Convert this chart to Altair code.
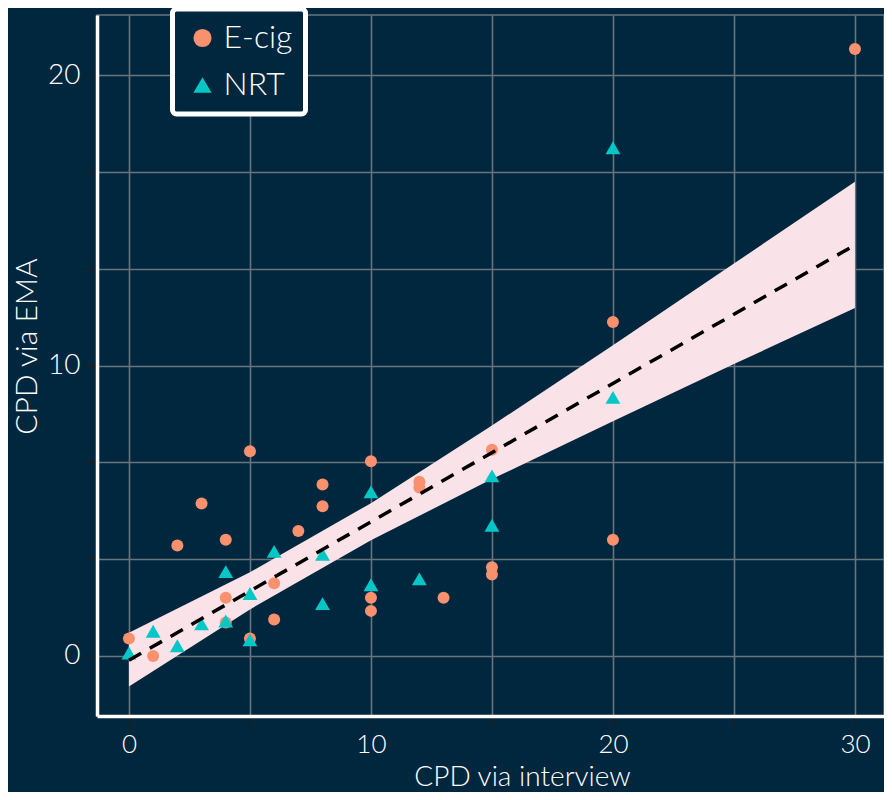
import altair as alt
import pandas as pd

# ---- data ----
ecig_x = [0, 1, 2, 3, 4, 4, 4, 5, 5, 6, 6, 7, 8, 8, 10, 10, 10, 12, 12, 13, 15, 15, 15, 20, 20, 30]
ecig_y = [0.6, 0.0, 3.8, 5.25, 4.0, 2.0, 1.15, 7.05, 0.6, 2.5, 1.25, 4.3, 5.9, 5.15, 6.7, 2.0, 1.55,
          6.0, 5.8, 2.0, 7.1, 3.05, 2.8, 11.5, 4.0, 20.9]

nrt_x = [0, 1, 2, 3, 4, 4, 5, 5, 6, 8, 8, 10, 10, 12, 15, 15, 20, 20]
nrt_y = [0.1, 0.85, 0.35, 1.1, 2.9, 1.2, 2.15, 0.55, 3.6, 3.5, 1.8, 5.65, 2.45, 2.65, 6.2, 4.5, 17.5, 8.9]

fit_x = [0, 30]
fit_y = [-0.15, 14.15]

band_x = [0, 5, 10, 15, 20, 25, 30]
band_lo = [-1.05, 1.60, 3.98, 6.09, 8.08, 10.05, 11.98]
band_hi = [0.80, 2.88, 5.26, 7.93, 10.70, 13.51, 16.33]

groups = ["E-cig", "NRT"]
colors = ["#F9916F", "#05C7C6"]
shapes = ["circle", "triangle-up"]

x_ticks = [0, 5, 10, 15, 20, 25, 30]
y_ticks = [0, 10 / 3, 20 / 3, 10, 40 / 3, 50 / 3, 20]

NAVY = "#01273F"
GRID = "#6A747C"
FONT = "Lato"

pts = pd.DataFrame({
    "x": ecig_x + nrt_x,
    "y": ecig_y + nrt_y,
    "group": ["E-cig"] * len(ecig_x) + ["NRT"] * len(nrt_x),
})
band = pd.DataFrame({"x": band_x, "lo": band_lo, "hi": band_hi})
fit = pd.DataFrame({"x": fit_x, "y": fit_y})

xscale = alt.Scale(domain=[-1.32, 31.20], nice=False, zero=False)
yscale = alt.Scale(domain=[-2.07, 22.07], nice=False, zero=False)

xaxis = alt.Axis(
    values=x_ticks,
    labelExpr="datum.value % 10 == 0 ? datum.label : ''",
    title="CPD via interview",
    titleX=425, titleY=69, titleBaseline="alphabetic", titleAlign="center",
    labelPadding=3, labelFontSize=26, titleFontSize=28,
)
yaxis = alt.Axis(
    values=y_ticks,
    labelExpr="abs(datum.value - round(datum.value / 10) * 10) < 0.01 ? format(datum.value, 'd') : ''",
    title="CPD via EMA",
    titleX=-70, titleY=331, titleBaseline="middle", titleAlign="center", titleAngle=270,
    labelPadding=5, labelFontSize=28, titleFontSize=30,
)

band_layer = alt.Chart(band).mark_area(color="#F9E2E8", opacity=1).encode(
    x=alt.X("x:Q", scale=xscale, axis=xaxis),
    y=alt.Y("lo:Q", scale=yscale, axis=yaxis),
    y2="hi:Q",
)

color_enc = alt.Color("group:N", scale=alt.Scale(domain=groups, range=colors),
                      legend=alt.Legend(title=None))
shape_enc = alt.Shape("group:N", scale=alt.Scale(domain=groups, range=shapes),
                      legend=alt.Legend(title=None))

circ_layer = alt.Chart(pts).transform_filter(alt.datum.group == "E-cig").mark_point(
    filled=True, size=144, opacity=1
).encode(x=alt.X("x:Q", scale=xscale), y=alt.Y("y:Q", scale=yscale), color=color_enc, shape=shape_enc)

tri_layer = alt.Chart(pts).transform_filter(alt.datum.group == "NRT").mark_point(
    filled=True, size=220, opacity=1
).encode(x=alt.X("x:Q", scale=xscale), y=alt.Y("y:Q", scale=yscale), color=color_enc, shape=shape_enc)

line_layer = alt.Chart(fit).mark_line(color="black", strokeWidth=3.5, strokeDash=[14, 10]).encode(
    x=alt.X("x:Q", scale=xscale), y=alt.Y("y:Q", scale=yscale)
)

chart = alt.layer(band_layer, circ_layer, tri_layer, line_layer).properties(
    width=787, height=701,
    autosize=alt.AutoSizeParams(type="none"),
    padding={"left": 89, "top": 7, "right": 0, "bottom": 76},
    background=NAVY,
).configure_view(
    fill=NAVY, stroke=GRID, strokeWidth=1.5,
).configure_axis(
    domainColor="white", domainWidth=3.5,
    gridColor=GRID, gridWidth=1.6, gridOpacity=1,
    tickColor="#1E1E1E", tickSize=12, tickWidth=1.5,
    labelColor="white", labelFont=FONT, labelFontWeight=300,
    titleColor="white", titleFont=FONT, titleFontWeight=300,
).configure_legend(
    orient="none", legendX=75.5, legendY=-6,
    strokeColor="white", strokeWidth=5, cornerRadius=4, fillColor=NAVY,
    padding=13, symbolOffset=1, symbolSize=330, symbolStrokeWidth=0,
    labelColor="white", labelFont=FONT, labelFontWeight=300, labelFontSize=32,
    labelOffset=5, rowPadding=15,
)

chart.save("out.html", embed_options={"renderer": "svg", "actions": False})
